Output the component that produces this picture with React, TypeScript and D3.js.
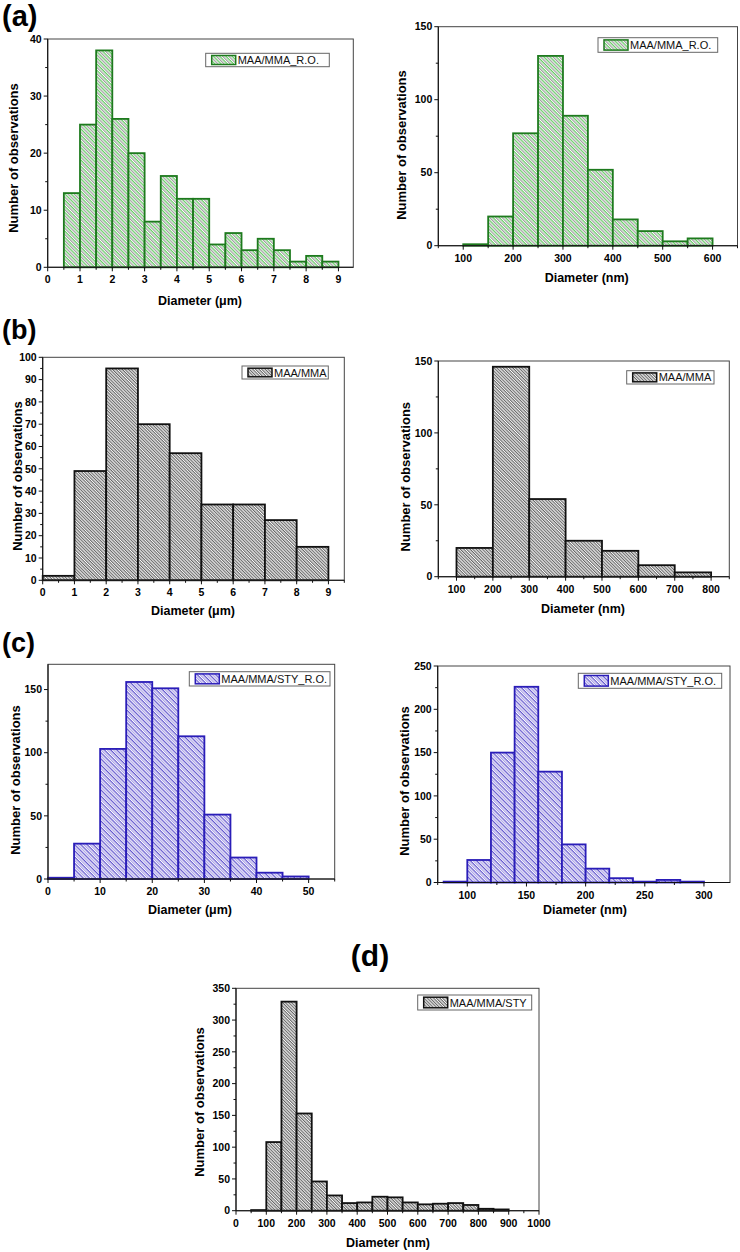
import React from 'react';
import * as d3 from 'd3';

// ---------- DATA ----------
// (a) left – MAA/MMA_R.O. (µm)
const aLeftBins = [0.5, 1, 1.5, 2, 2.5, 3, 3.5, 4, 4.5, 5, 5.5, 6, 6.5, 7, 7.5, 8, 8.5];
const aLeftCounts = [13, 25, 38, 26, 20, 8, 16, 12, 12, 4, 6, 3, 5, 3, 1, 2, 1];
const aLeftXTicks = [0, 1, 2, 3, 4, 5, 6, 7, 8, 9];
const aLeftYTicks = [0, 10, 20, 30, 40];

// (a) right – MAA/MMA_R.O. (nm)
const aRightBins = [100, 150, 200, 250, 300, 350, 400, 450, 500, 550];
const aRightCounts = [1, 20, 77, 130, 89, 52, 18, 10, 3, 5];
const aRightXTicks = [100, 200, 300, 400, 500, 600];
const aRightYTicks = [0, 50, 100, 150];

// (b) left – MAA/MMA (µm)
const bLeftBins = [0, 1, 2, 3, 4, 5, 6, 7, 8];
const bLeftCounts = [2, 49, 95, 70, 57, 34, 34, 27, 15];
const bLeftXTicks = [0, 1, 2, 3, 4, 5, 6, 7, 8, 9];
const bLeftYTicks = [0, 10, 20, 30, 40, 50, 60, 70, 80, 90, 100];

// (b) right – MAA/MMA (nm)
const bRightBins = [100, 200, 300, 400, 500, 600, 700];
const bRightCounts = [20, 146, 54, 25, 18, 8, 3];
const bRightXTicks = [100, 200, 300, 400, 500, 600, 700, 800];
const bRightYTicks = [0, 50, 100, 150];

// (c) left – MAA/MMA/STY_R.O. (µm)
const cLeftBins = [0, 5, 10, 15, 20, 25, 30, 35, 40, 45];
const cLeftCounts = [1, 28, 103, 156, 151, 113, 51, 17, 5, 2];
const cLeftXTicks = [0, 10, 20, 30, 40, 50];
const cLeftYTicks = [0, 50, 100, 150];

// (c) right – MAA/MMA/STY_R.O. (nm)
const cRightBins = [80, 100, 120, 140, 160, 180, 200, 220, 240, 260, 280];
const cRightCounts = [1, 26, 150, 226, 128, 44, 16, 5, 1, 3, 1];
const cRightXTicks = [100, 150, 200, 250, 300];
const cRightYTicks = [0, 50, 100, 150, 200, 250];

// (d) – MAA/MMA/STY (nm)
const dBins = [50, 100, 150, 200, 250, 300, 350, 400, 450, 500, 550, 600, 650, 700, 750, 800, 850];
const dCounts = [1, 108, 329, 153, 46, 24, 12, 13, 22, 21, 13, 10, 11, 12, 9, 3, 2];
const dXTicks = [0, 100, 200, 300, 400, 500, 600, 700, 800, 900, 1000];
const dYTicks = [0, 50, 100, 150, 200, 250, 300, 350];

// ---------- STYLE ----------
const FONT = '"Liberation Sans", Arial, sans-serif';
const schemes: Record<string, { stroke: string; c1: string; c2: string }> = {
  green: { stroke: '#1d7a1d', c1: '#4fc24f', c2: '#8a8a8a' },
  black: { stroke: '#111111', c1: '#2a2a2a', c2: '#2a2a2a' },
  blue: { stroke: '#2a1db8', c1: '#4a3cc6', c2: '#9a90e2' },
};

type PanelCfg = {
  frame: { l: number; t: number; r: number; b: number };
  xDomain: [number, number];
  yDomain: [number, number];
  bins: number[];
  binWidth: number;
  counts: number[];
  xTicks: number[];
  yTicks: number[];
  scheme: string;
  legend: string;
  legendBox: { x: number; y: number; w: number; h: number };
  xLabel: string;
  xLabelPos: { x: number; y: number };
  yLabelPos: { x: number; y: number };
};

const panels: PanelCfg[] = [
  {
    frame: { l: 47.7, t: 39, r: 353.3, b: 267.3 },
    xDomain: [0, 9.46], yDomain: [0, 40],
    bins: aLeftBins, binWidth: 0.5, counts: aLeftCounts,
    xTicks: aLeftXTicks, yTicks: aLeftYTicks, scheme: 'green',
    legend: 'MAA/MMA_R.O.', legendBox: { x: 205.7, y: 53.3, w: 123.6, h: 13.4 },
    xLabel: 'Diameter (μm)', xLabelPos: { x: 200, y: 305 }, yLabelPos: { x: 18, y: 158 },
  },
  {
    frame: { l: 438.3, t: 26.7, r: 737.5, b: 245.7 },
    xDomain: [50, 650], yDomain: [0, 150],
    bins: aRightBins, binWidth: 50, counts: aRightCounts,
    xTicks: aRightXTicks, yTicks: aRightYTicks, scheme: 'green',
    legend: 'MAA/MMA_R.O.', legendBox: { x: 598, y: 37.7, w: 119.7, h: 14.6 },
    xLabel: 'Diameter (nm)', xLabelPos: { x: 586.7, y: 281.5 }, yLabelPos: { x: 406, y: 145 },
  },
  {
    frame: { l: 42.7, t: 357.3, r: 344.3, b: 580.3 },
    xDomain: [0, 9.5], yDomain: [0, 100],
    bins: bLeftBins, binWidth: 1, counts: bLeftCounts,
    xTicks: bLeftXTicks, yTicks: bLeftYTicks, scheme: 'black',
    legend: 'MAA/MMA', legendBox: { x: 242, y: 366, w: 86.3, h: 13 },
    xLabel: 'Diameter (μm)', xLabelPos: { x: 193, y: 615 }, yLabelPos: { x: 21.5, y: 476 },
  },
  {
    frame: { l: 438.3, t: 361, r: 729.3, b: 576.7 },
    xDomain: [50, 850], yDomain: [0, 150],
    bins: bRightBins, binWidth: 100, counts: bRightCounts,
    xTicks: bRightXTicks, yTicks: bRightYTicks, scheme: 'black',
    legend: 'MAA/MMA', legendBox: { x: 626.7, y: 370.7, w: 87.3, h: 13.3 },
    xLabel: 'Diameter (nm)', xLabelPos: { x: 583, y: 612.5 }, yLabelPos: { x: 409.5, y: 476.7 },
  },
  {
    frame: { l: 48, t: 664.3, r: 334.7, b: 879 },
    xDomain: [0, 55], yDomain: [0, 170],
    bins: cLeftBins, binWidth: 5, counts: cLeftCounts,
    xTicks: cLeftXTicks, yTicks: cLeftYTicks, scheme: 'blue',
    legend: 'MAA/MMA/STY_R.O.', legendBox: { x: 189.3, y: 671.7, w: 140.7, h: 14.3 },
    xLabel: 'Diameter (μm)', xLabelPos: { x: 190, y: 913.5 }, yLabelPos: { x: 19.5, y: 780 },
  },
  {
    frame: { l: 437.7, t: 666, r: 730, b: 882.5 },
    xDomain: [75, 322], yDomain: [0, 250],
    bins: cRightBins, binWidth: 20, counts: cRightCounts,
    xTicks: cRightXTicks, yTicks: cRightYTicks, scheme: 'blue',
    legend: 'MAA/MMA/STY_R.O.', legendBox: { x: 578.3, y: 673.3, w: 143.4, h: 15 },
    xLabel: 'Diameter (nm)', xLabelPos: { x: 585, y: 913.5 }, yLabelPos: { x: 408.5, y: 781 },
  },
  {
    frame: { l: 236, t: 988.3, r: 539, b: 1210.7 },
    xDomain: [0, 1000], yDomain: [0, 350],
    bins: dBins, binWidth: 50, counts: dCounts,
    xTicks: dXTicks, yTicks: dYTicks, scheme: 'black',
    legend: 'MAA/MMA/STY', legendBox: { x: 417.7, y: 995, w: 114, h: 15 },
    xLabel: 'Diameter (nm)', xLabelPos: { x: 388, y: 1247 }, yLabelPos: { x: 204, y: 1102 },
  },
];

const panelLetters = [
  { text: '(a)', x: 2, y: 26, size: 29, anchor: 'start' },
  { text: '(b)', x: 2, y: 339, size: 27, anchor: 'start' },
  { text: '(c)', x: 2, y: 652, size: 27, anchor: 'start' },
  { text: '(d)', x: 370, y: 966, size: 30, anchor: 'middle' },
];

function minorTicks(ticks: number[]): number[] {
  const out: number[] = [];
  for (let i = 0; i < ticks.length - 1; i++) out.push((ticks[i] + ticks[i + 1]) / 2);
  return out;
}

function Panel({ cfg }: { cfg: PanelCfg }) {
  const { l, t, r, b } = cfg.frame;
  const x = d3.scaleLinear().domain(cfg.xDomain).range([l, r]);
  const y = d3.scaleLinear().domain(cfg.yDomain).range([b, t]);
  const sc = schemes[cfg.scheme];
  const pat = `url(#hatch-${cfg.scheme})`;
  const xStep = cfg.xTicks[1] - cfg.xTicks[0];
  const xMinor = minorTicks(cfg.xTicks)
    .concat([cfg.xTicks[0] - xStep / 2, cfg.xTicks[cfg.xTicks.length - 1] + xStep / 2])
    .filter((v) => v >= cfg.xDomain[0] && v <= cfg.xDomain[1]);
  const yStep = cfg.yTicks[1] - cfg.yTicks[0];
  const yMinor = minorTicks(cfg.yTicks)
    .concat([cfg.yTicks[cfg.yTicks.length - 1] + yStep / 2])
    .filter((v) => v <= cfg.yDomain[1]);
  const lb = cfg.legendBox;
  return (
    <g>
      {cfg.counts.map((c, i) => (
        <rect
          key={i}
          x={x(cfg.bins[i])}
          y={y(c)}
          width={x(cfg.bins[i] + cfg.binWidth) - x(cfg.bins[i])}
          height={y(0) - y(c)}
          fill={pat}
          stroke={sc.stroke}
          strokeWidth={1.8}
        />
      ))}
      <rect x={l} y={t} width={r - l} height={b - t} fill="none" stroke="#444" strokeWidth={1} />
      <line x1={l} x2={l} y1={t} y2={b} stroke="#111" strokeWidth={1.1} />
      <line x1={l} x2={r} y1={b} y2={b} stroke="#111" strokeWidth={1.1} />
      {cfg.xTicks.map((v) => (
        <g key={'xt' + v}>
          <line x1={x(v)} x2={x(v)} y1={b} y2={b + 4} stroke="#111" strokeWidth={1} />
          <text x={x(v)} y={b + 16} textAnchor="middle" fontFamily={FONT} fontWeight="bold" fontSize={10.5}>
            {v}
          </text>
        </g>
      ))}
      {xMinor.map((v) => (
        <line key={'xm' + v} x1={x(v)} x2={x(v)} y1={b} y2={b + 2.5} stroke="#111" strokeWidth={1} />
      ))}
      {cfg.yTicks.map((v) => (
        <g key={'yt' + v}>
          <line x1={l - 4} x2={l} y1={y(v)} y2={y(v)} stroke="#111" strokeWidth={1} />
          <text x={l - 6} y={y(v) + 3.7} textAnchor="end" fontFamily={FONT} fontWeight="bold" fontSize={10.5}>
            {v}
          </text>
        </g>
      ))}
      {yMinor.map((v) => (
        <line key={'ym' + v} x1={l - 2.5} x2={l} y1={y(v)} y2={y(v)} stroke="#111" strokeWidth={1} />
      ))}
      <text x={cfg.xLabelPos.x} y={cfg.xLabelPos.y} textAnchor="middle" fontFamily={FONT} fontWeight="bold" fontSize={12.5}>
        {cfg.xLabel}
      </text>
      <text
        transform={`translate(${cfg.yLabelPos.x},${cfg.yLabelPos.y}) rotate(-90)`}
        textAnchor="middle"
        fontFamily={FONT}
        fontWeight="bold"
        fontSize={13}
      >
        Number of observations
      </text>
      <rect x={lb.x} y={lb.y} width={lb.w} height={lb.h} fill="#fff" stroke="#666" strokeWidth={1} />
      <rect x={lb.x + 6} y={lb.y + 2.2} width={24} height={lb.h - 4.4} fill={pat} stroke={sc.stroke} strokeWidth={1.5} />
      <text x={lb.x + 32} y={lb.y + lb.h / 2 + 4} fontFamily={FONT} fontSize={11} fill="#111">
        {cfg.legend}
      </text>
    </g>
  );
}

export default function App() {
  return (
    <svg
      width={740}
      height={1252}
      viewBox="0 0 740 1252"
      style={{ position: 'absolute', left: 0, top: 0, background: '#fff' }}
    >
      <defs>
        {Object.entries(schemes).map(([k, s]) => (
          <pattern
            key={k}
            id={`hatch-${k}`}
            patternUnits="userSpaceOnUse"
            width={4.4}
            height={4.4}
            patternTransform="rotate(-45)"
          >
            <rect width={4.4} height={4.4} fill="#fff" />
            <line x1={1.1} x2={1.1} y1={0} y2={4.4} stroke={s.c1} strokeWidth={k === 'black' ? 0.85 : 1.1} />
            <line x1={3.3} x2={3.3} y1={0} y2={4.4} stroke={s.c2} strokeWidth={k === 'black' ? 0.85 : 1.0} />
          </pattern>
        ))}
      </defs>
      <rect width={740} height={1252} fill="#fff" />
      {panels.map((p, i) => (
        <Panel key={i} cfg={p} />
      ))}
      {panelLetters.map((pl) => (
        <text
          key={pl.text}
          x={pl.x}
          y={pl.y}
          textAnchor={pl.anchor as any}
          fontFamily={FONT}
          fontWeight="bold"
          fontSize={pl.size}
        >
          {pl.text}
        </text>
      ))}
    </svg>
  );
}
